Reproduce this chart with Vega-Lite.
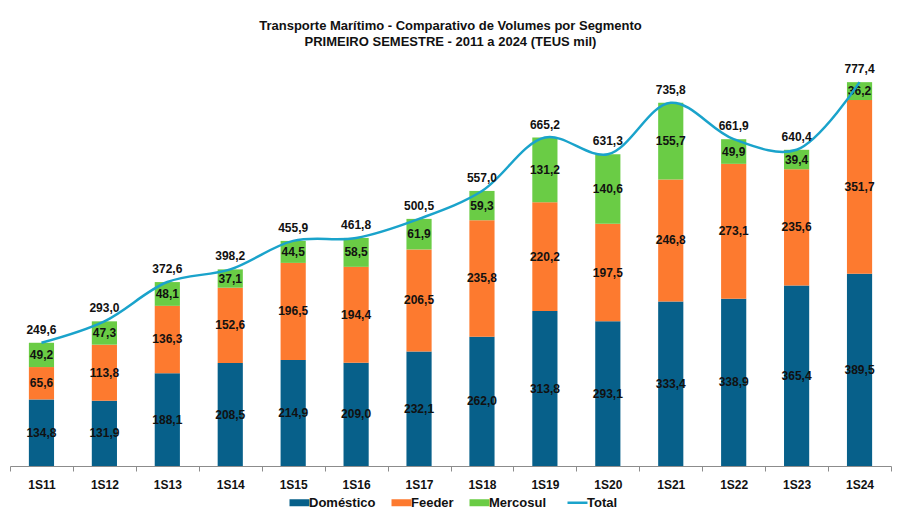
{
  "$schema": "https://vega.github.io/schema/vega-lite/v6.json",
  "autosize": {"type": "none"},
  "width": 881,
  "height": 395,
  "padding": {"left": 10, "top": 71, "right": 9, "bottom": 64},
  "background": "white",
  "title": {
    "text": ["Transporte Marítimo - Comparativo de Volumes por Segmento", "PRIMEIRO SEMESTRE - 2011 a 2024 (TEUS mil)"],
    "anchor": "middle",
    "font": "Liberation Sans",
    "fontSize": 13,
    "fontWeight": "bold",
    "color": "#111111",
    "lineHeight": 16,
    "offset": 14
  },
  "config": {
    "locale": {"number": {"decimal": ",", "thousands": ".", "grouping": [3], "currency": ["R$", ""]}},
    "view": {"stroke": null},
    "font": "Liberation Sans"
  },
  "datasets": {
    "segments": [
      {"semestre": "1S11", "segmento": "Doméstico", "ordem": 1, "valor": 134.8},
      {"semestre": "1S11", "segmento": "Feeder", "ordem": 2, "valor": 65.6},
      {"semestre": "1S11", "segmento": "Mercosul", "ordem": 3, "valor": 49.2},
      {"semestre": "1S12", "segmento": "Doméstico", "ordem": 1, "valor": 131.9},
      {"semestre": "1S12", "segmento": "Feeder", "ordem": 2, "valor": 113.8},
      {"semestre": "1S12", "segmento": "Mercosul", "ordem": 3, "valor": 47.3},
      {"semestre": "1S13", "segmento": "Doméstico", "ordem": 1, "valor": 188.1},
      {"semestre": "1S13", "segmento": "Feeder", "ordem": 2, "valor": 136.3},
      {"semestre": "1S13", "segmento": "Mercosul", "ordem": 3, "valor": 48.1},
      {"semestre": "1S14", "segmento": "Doméstico", "ordem": 1, "valor": 208.5},
      {"semestre": "1S14", "segmento": "Feeder", "ordem": 2, "valor": 152.6},
      {"semestre": "1S14", "segmento": "Mercosul", "ordem": 3, "valor": 37.1},
      {"semestre": "1S15", "segmento": "Doméstico", "ordem": 1, "valor": 214.9},
      {"semestre": "1S15", "segmento": "Feeder", "ordem": 2, "valor": 196.5},
      {"semestre": "1S15", "segmento": "Mercosul", "ordem": 3, "valor": 44.5},
      {"semestre": "1S16", "segmento": "Doméstico", "ordem": 1, "valor": 209.0},
      {"semestre": "1S16", "segmento": "Feeder", "ordem": 2, "valor": 194.4},
      {"semestre": "1S16", "segmento": "Mercosul", "ordem": 3, "valor": 58.5},
      {"semestre": "1S17", "segmento": "Doméstico", "ordem": 1, "valor": 232.1},
      {"semestre": "1S17", "segmento": "Feeder", "ordem": 2, "valor": 206.5},
      {"semestre": "1S17", "segmento": "Mercosul", "ordem": 3, "valor": 61.9},
      {"semestre": "1S18", "segmento": "Doméstico", "ordem": 1, "valor": 262.0},
      {"semestre": "1S18", "segmento": "Feeder", "ordem": 2, "valor": 235.8},
      {"semestre": "1S18", "segmento": "Mercosul", "ordem": 3, "valor": 59.3},
      {"semestre": "1S19", "segmento": "Doméstico", "ordem": 1, "valor": 313.8},
      {"semestre": "1S19", "segmento": "Feeder", "ordem": 2, "valor": 220.2},
      {"semestre": "1S19", "segmento": "Mercosul", "ordem": 3, "valor": 131.2},
      {"semestre": "1S20", "segmento": "Doméstico", "ordem": 1, "valor": 293.1},
      {"semestre": "1S20", "segmento": "Feeder", "ordem": 2, "valor": 197.5},
      {"semestre": "1S20", "segmento": "Mercosul", "ordem": 3, "valor": 140.6},
      {"semestre": "1S21", "segmento": "Doméstico", "ordem": 1, "valor": 333.4},
      {"semestre": "1S21", "segmento": "Feeder", "ordem": 2, "valor": 246.8},
      {"semestre": "1S21", "segmento": "Mercosul", "ordem": 3, "valor": 155.7},
      {"semestre": "1S22", "segmento": "Doméstico", "ordem": 1, "valor": 338.9},
      {"semestre": "1S22", "segmento": "Feeder", "ordem": 2, "valor": 273.1},
      {"semestre": "1S22", "segmento": "Mercosul", "ordem": 3, "valor": 49.9},
      {"semestre": "1S23", "segmento": "Doméstico", "ordem": 1, "valor": 365.4},
      {"semestre": "1S23", "segmento": "Feeder", "ordem": 2, "valor": 235.6},
      {"semestre": "1S23", "segmento": "Mercosul", "ordem": 3, "valor": 39.4},
      {"semestre": "1S24", "segmento": "Doméstico", "ordem": 1, "valor": 389.5},
      {"semestre": "1S24", "segmento": "Feeder", "ordem": 2, "valor": 351.7},
      {"semestre": "1S24", "segmento": "Mercosul", "ordem": 3, "valor": 36.2}
    ],
    "totals": [
      {"semestre": "1S11", "total": 249.6},
      {"semestre": "1S12", "total": 293.0},
      {"semestre": "1S13", "total": 372.6},
      {"semestre": "1S14", "total": 398.2},
      {"semestre": "1S15", "total": 455.9},
      {"semestre": "1S16", "total": 461.8},
      {"semestre": "1S17", "total": 500.5},
      {"semestre": "1S18", "total": 557.0},
      {"semestre": "1S19", "total": 665.2},
      {"semestre": "1S20", "total": 631.3},
      {"semestre": "1S21", "total": 735.8},
      {"semestre": "1S22", "total": 661.9},
      {"semestre": "1S23", "total": 640.4},
      {"semestre": "1S24", "total": 777.4}
    ]
  },
  "encoding": {
    "x": {
      "field": "semestre",
      "type": "nominal",
      "sort": null,
      "scale": {"paddingInner": 0, "paddingOuter": 0},
      "axis": {
        "title": null,
        "labelAngle": 0,
        "labelFont": "Liberation Sans",
        "labelFontSize": 12,
        "labelFontWeight": "bold",
        "labelColor": "#111111",
        "labelPadding": 8,
        "domainColor": "#8c8c8c",
        "tickColor": "#8c8c8c",
        "tickSize": 5,
        "tickBand": "extent",
        "grid": false
      }
    }
  },
  "layer": [
    {
      "data": {"name": "segments"},
      "mark": {"type": "bar", "width": {"band": 0.4}},
      "encoding": {
        "y": {"field": "valor", "type": "quantitative", "stack": "zero", "scale": {"domain": [0, 800], "nice": false}, "axis": null},
        "color": {
          "field": "segmento",
          "type": "nominal",
          "scale": {"domain": ["Doméstico", "Feeder", "Mercosul", "Total"], "range": ["#07608a", "#fd7a2f", "#6acc45", "#1aa3cb"]},
          "legend": {
            "title": null,
            "orient": "none",
            "direction": "horizontal",
            "columns": 4,
            "legendX": 283,
            "legendY": 425,
            "columnPadding": 15,
            "labelFont": "Liberation Sans",
            "labelFontSize": 13,
            "labelFontWeight": "bold",
            "labelColor": "#111111",
            "labelOffset": 3,
            "symbolSize": 400,
            "encode": {
              "symbols": {
                "update": {
                  "shape": {"signal": "datum.value === 'Total' ? 'stroke' : 'M-1,-0.35H1V0.35H-1Z'"},
                  "fill": {"signal": "datum.value === 'Total' ? 'transparent' : scale('color', datum.value)"},
                  "stroke": {"signal": "scale('color', datum.value)"},
                  "strokeWidth": {"signal": "datum.value === 'Total' ? 2.5 : 0"},
                  "opacity": {"value": 1}
                }
              }
            }
          }
        },
        "order": {"field": "ordem", "type": "quantitative"}
      }
    },
    {
      "data": {"name": "segments"},
      "mark": {"type": "text", "font": "Liberation Sans", "fontSize": 12, "fontWeight": "bold", "color": "#111111", "baseline": "middle"},
      "encoding": {
        "y": {"field": "valor", "type": "quantitative", "stack": "zero", "bandPosition": 0.5},
        "detail": {"field": "segmento"},
        "order": {"field": "ordem", "type": "quantitative"},
        "text": {"field": "valor", "type": "quantitative", "format": ".1f"}
      }
    },
    {
      "data": {"name": "totals"},
      "mark": {"type": "line", "interpolate": "catmull-rom", "strokeWidth": 2.5},
      "encoding": {
        "y": {"field": "total", "type": "quantitative"},
        "color": {"datum": "Total"}
      }
    },
    {
      "data": {"name": "totals"},
      "mark": {"type": "text", "font": "Liberation Sans", "fontSize": 12, "fontWeight": "bold", "color": "#111111", "baseline": "bottom", "dy": -6},
      "encoding": {
        "y": {"field": "total", "type": "quantitative"},
        "text": {"field": "total", "type": "quantitative", "format": ".1f"}
      }
    }
  ]
}
